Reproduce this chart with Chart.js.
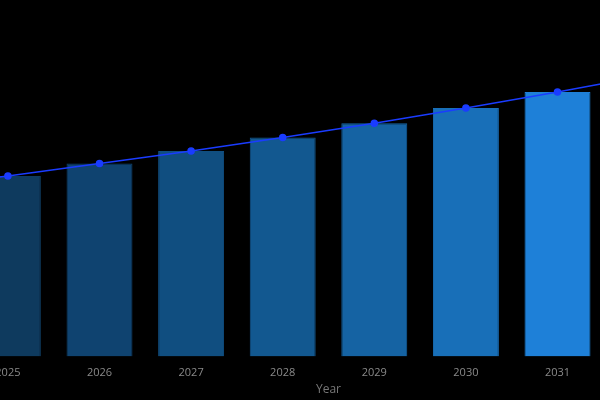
<!DOCTYPE html>
<html><head><meta charset="utf-8">
<style>
html,body{margin:0;padding:0;background:#000;overflow:hidden;width:600px;height:400px;}
#wrap{position:absolute;left:-134px;top:0;width:925px;height:399px;}
</style>
<script src="https://cdn.jsdelivr.net/npm/chart.js@4/dist/chart.umd.min.js"></script>
</head><body>
<div id="wrap"><canvas id="c"></canvas></div>
<script>
const years = ['2024','2025','2026','2027','2028','2029','2030','2031','2032','2033'];
const marketValues = [19.0, 20.2, 21.6, 23.0, 24.5, 26.1, 27.8, 29.6, 31.5, 33.5];
const trendValues = [19.0, 20.2, 21.6, 23.0, 24.5, 26.1, 27.8, 29.6, 31.5, 33.5];
const barColors = ['#0c3050','#0e3a5e','#0f4370','#104e80','#125890','#1563a3','#186fb8','#1e80d8','#2288e4','#2690ee'];

new Chart(document.getElementById('c'), {
  data: {
    labels: years,
    datasets: [
      { type: 'line', label: 'Trend', data: trendValues, borderColor: '#1a3cff', backgroundColor: '#1a3cff',
        borderWidth: 1.5, pointRadius: 3, pointHoverRadius: 3, tension: 0, order: 0 },
      { type: 'bar', label: 'Value', data: marketValues, backgroundColor: barColors,
        borderColor: barColors, borderWidth: 1, order: 1 }
    ]
  },
  options: {
    responsive: true, maintainAspectRatio: false, animation: false,
    layout: { padding: 0 },
    plugins: { legend: { display: false }, tooltip: { enabled: false } },
    scales: {
      x: { grid: { display: false }, border: { display: false },
           ticks: { color: '#8a8a8a', padding: 2, font: { family: 'Open Sans', size: 11 } },
           title: { display: true, text: 'Year', color: '#777', padding: { top: 1, bottom: 2 }, font: { family: 'Open Sans', size: 12 } } },
      y: { display: false, min: 0, max: 39.4 }
    }
  }
});
</script>
</body></html>
